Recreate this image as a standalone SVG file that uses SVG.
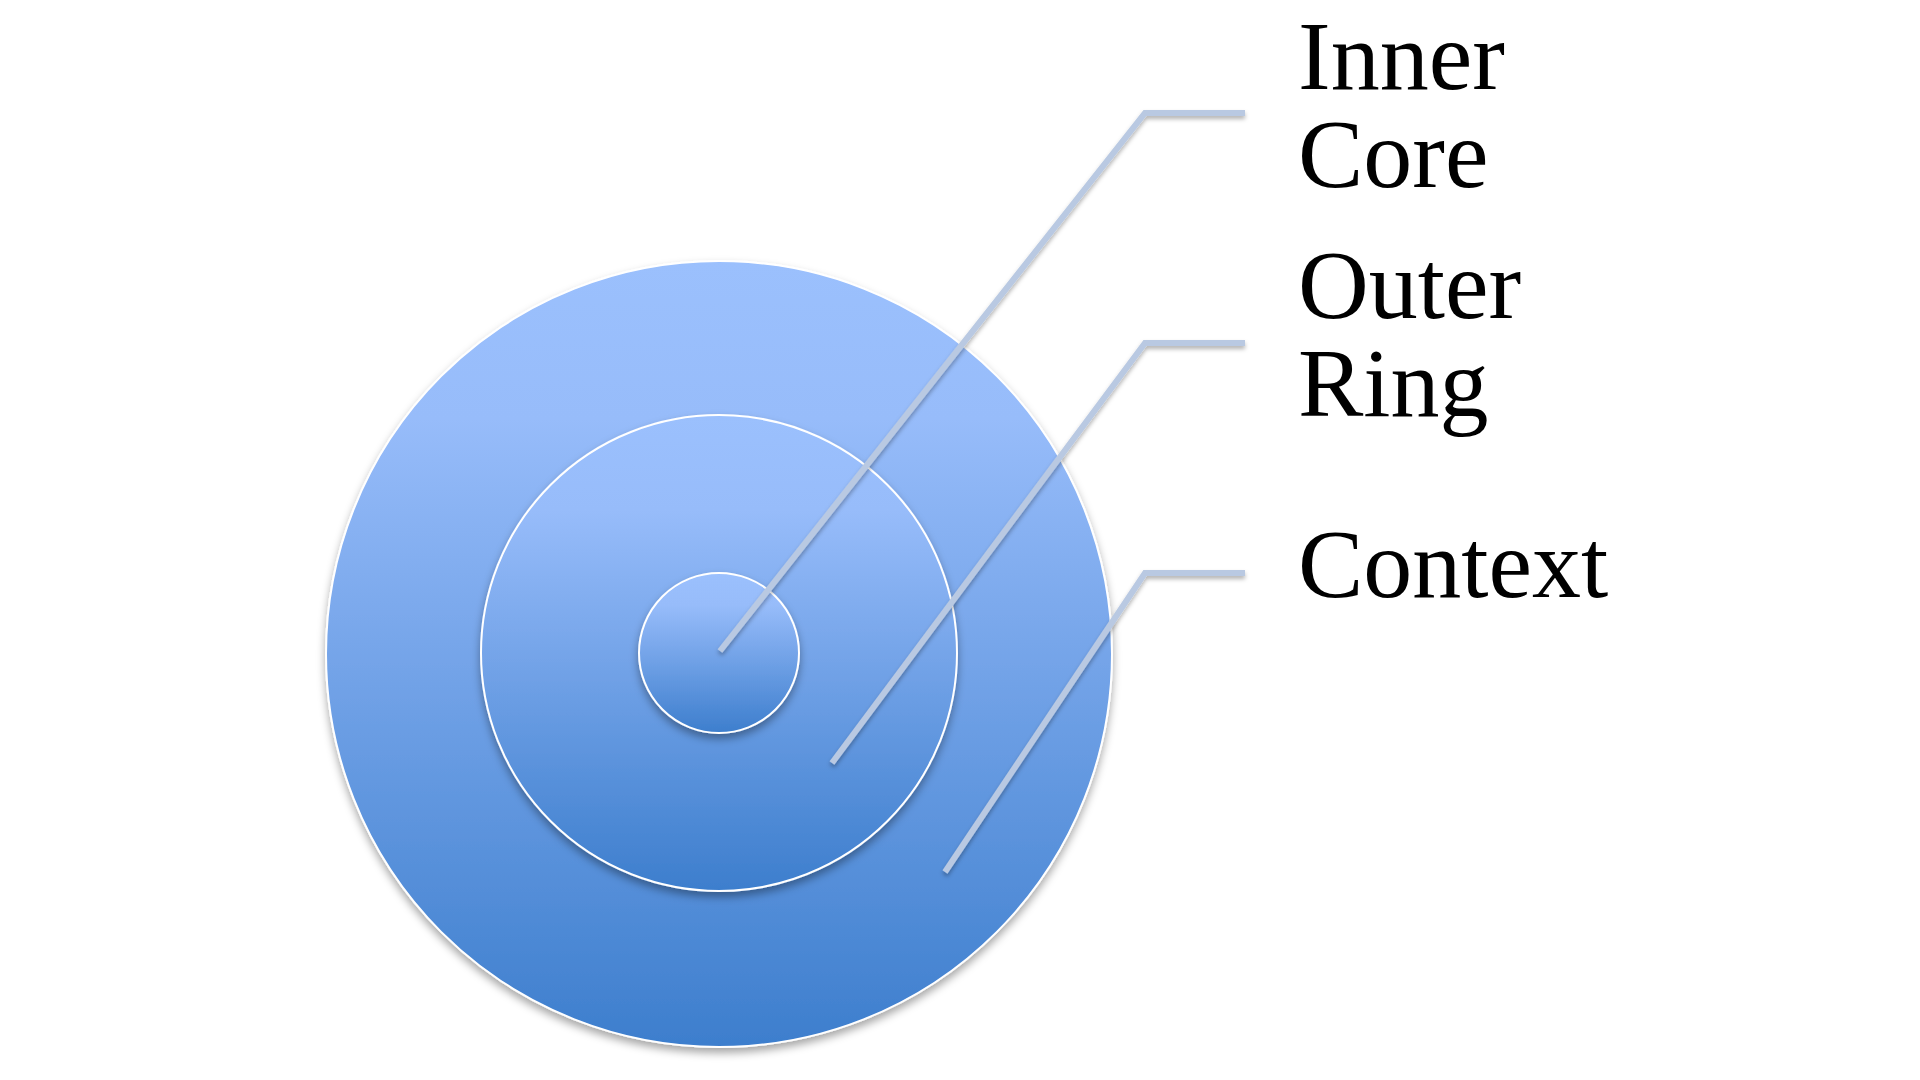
<svg xmlns="http://www.w3.org/2000/svg" width="1920" height="1080" viewBox="0 0 1920 1080">
<defs>
<linearGradient id="g" x1="0" y1="0" x2="0" y2="1">
<stop offset="0" stop-color="#9bc0fd"/>
<stop offset="0.2" stop-color="#97bcfa"/>
<stop offset="1" stop-color="#3d7ecd"/>
</linearGradient>
<filter id="sh" x="-10%" y="-10%" width="120%" height="125%">
<feDropShadow dx="0" dy="5" stdDeviation="4" flood-color="#000" flood-opacity="0.35"/>
</filter>
<filter id="lsh" x="-10%" y="-10%" width="120%" height="130%">
<feDropShadow dx="0" dy="3" stdDeviation="2" flood-color="#000" flood-opacity="0.3"/>
</filter>
<style>
.c{fill:url(#g);stroke:#ffffff;stroke-width:2}
.conn{fill:none;stroke:#b9c9e2;stroke-width:6;stroke-linejoin:miter}
.t{font-family:"Liberation Serif","Times New Roman",serif;font-size:98px;fill:#000}
</style>
</defs>
<rect width="1920" height="1080" fill="#ffffff"/>
<g id="context"><circle class="c" cx="719" cy="654" r="393" filter="url(#sh)"/></g>
<g id="outer-ring"><circle class="c" cx="719" cy="653" r="238" filter="url(#sh)"/></g>
<g id="inner-core"><circle class="c" cx="719" cy="653" r="80" filter="url(#sh)"/></g>
<g id="connectors" filter="url(#lsh)">
<polyline class="conn" points="720,651 1145,113 1245,113"/>
<polyline class="conn" points="832,763 1145,343 1245,343"/>
<polyline class="conn" points="945,872 1145,573 1245,573"/>
</g>
<g id="labels">
<text class="t" x="1298" y="89">Inner</text>
<text class="t" x="1298" y="187">Core</text>
<text class="t" x="1298" y="318">Outer</text>
<text class="t" x="1298" y="416">Ring</text>
<text class="t" x="1298" y="597">Context</text>
</g>
</svg>
